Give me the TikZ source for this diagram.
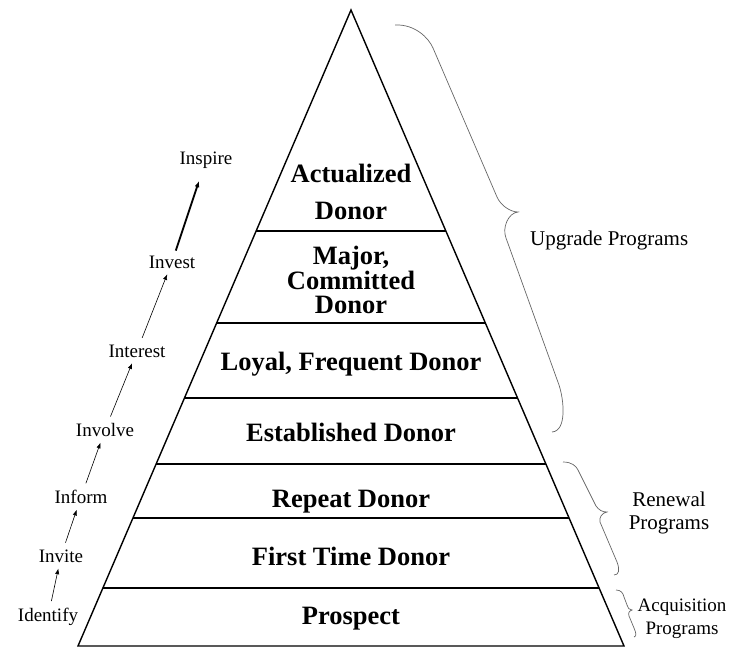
\documentclass[tikz,border=0pt]{standalone}
\usepackage{fontspec}
\setmainfont{Liberation Serif}
\usetikzlibrary{arrows.meta,positioning,calc}
\tikzset{
  layertext/.style={font=\fontsize{26.5}{24}\selectfont\bfseries,align=center,inner sep=0pt},
  steptext/.style={font=\fontsize{19}{21}\selectfont,inner sep=2pt},
  progtext/.style={font=\fontsize{21}{22.5}\selectfont,align=center,inner sep=0pt},
  smallprog/.style={font=\fontsize{19}{23}\selectfont,align=center,inner sep=0pt},
  stepline/.style={-{Latex[length=2mm,width=1.5mm]},line width=0.6pt,shorten <=5pt,shorten >=4pt},
  bigstep/.style={-{Latex[length=2.2mm,width=1.7mm]},line width=1.8pt,shorten <=3pt,shorten >=11pt},
  divider/.style={line width=2.4pt},
  bracket/.style={draw=black!60,line width=0.7pt}
}
\begin{document}
\begin{tikzpicture}[x=1pt,y=-1pt]
\useasboundingbox (0,0) rectangle (741,653);

% pyramid outline
\coordinate (top) at (351,10);
\coordinate (bl) at (78,646);
\coordinate (br) at (624,646);
\draw[line width=1.4pt] (bl) -- (top) -- (br) -- cycle;

% layer dividers
\draw[divider] ($(bl)!0.6525!(top)$) -- ($(br)!0.6525!(top)$);
\draw[divider] ($(bl)!0.5079!(top)$) -- ($(br)!0.5079!(top)$);
\draw[divider] ($(bl)!0.3899!(top)$) -- ($(br)!0.3899!(top)$);
\draw[divider] ($(bl)!0.2862!(top)$) -- ($(br)!0.2862!(top)$);
\draw[divider] ($(bl)!0.2013!(top)$) -- ($(br)!0.2013!(top)$);
\draw[divider] ($(bl)!0.0912!(top)$) -- ($(br)!0.0912!(top)$);

% layer labels
\node[layertext] (actualized) at (351,191.5) {Actualized\\[13pt]Donor};
\node[layertext] (major) at (351,280) {Major,\\Committed\\Donor};
\node[layertext,anchor=base] (loyal) at (351,370) {Loyal, Frequent Donor};
\node[layertext,anchor=base] (established) at (351,441) {Established Donor};
\node[layertext,anchor=base] (repeat) at (351,507) {Repeat Donor};
\node[layertext,anchor=base] (first) at (351,565) {First Time Donor};
\node[layertext,anchor=base] (prospect) at (351,624) {Prospect};

% cultivation steps
\node[steptext] (identify) at (48,617) {Identify};
\node[steptext] (invite) at (61,556) {Invite};
\node[steptext] (inform) at (81,497) {Inform};
\node[steptext] (involve) at (105,430) {Involve};
\node[steptext] (interest) at (137,351) {Interest};
\node[steptext] (invest) at (172,262) {Invest};
\node[steptext] (inspire) at (206,160) {Inspire};

\draw[stepline] (identify) -- (invite);
\draw[stepline] (invite) -- (inform);
\draw[stepline] (inform) -- (involve);
\draw[stepline] (involve) -- (interest);
\draw[stepline] (interest) -- (invest);
\draw[bigstep] (invest) -- (inspire);

% program braces
\draw[bracket] (395,25) .. controls (415,24) and (428.7,38) .. (433,48) -- (497,197)
  .. controls (500.4,205) and (510,212) .. (518,212)
  .. controls (508,213) and (502,228) .. (506,238) -- (559,385)
  .. controls (564,400) and (567,431) .. (552,432);
\draw[bracket] (563,462) .. controls (572,462) and (576,466) .. (578,470) -- (596,506)
  .. controls (599,510) and (602,512) .. (607,512)
  .. controls (602,513) and (599,517) .. (600,522) -- (617,562)
  .. controls (620,570) and (619,575) .. (614,575);
\draw[bracket] (616,590) .. controls (621,590) and (623,593) .. (624,597) -- (627,605)
  .. controls (628,608) and (629,610) .. (632,610)
  .. controls (629,611) and (628,613) .. (629,616) -- (634,628)
  .. controls (636,633) and (637,636) .. (634,637);

% program labels
\node[progtext,anchor=base west] (upgrade) at (530,245) {Upgrade Programs};
\node[progtext] (renewal) at (669,513) {Renewal\\Programs};
\node[smallprog] (acquisition) at (682,619) {Acquisition\\Programs};
\end{tikzpicture}
\end{document}
